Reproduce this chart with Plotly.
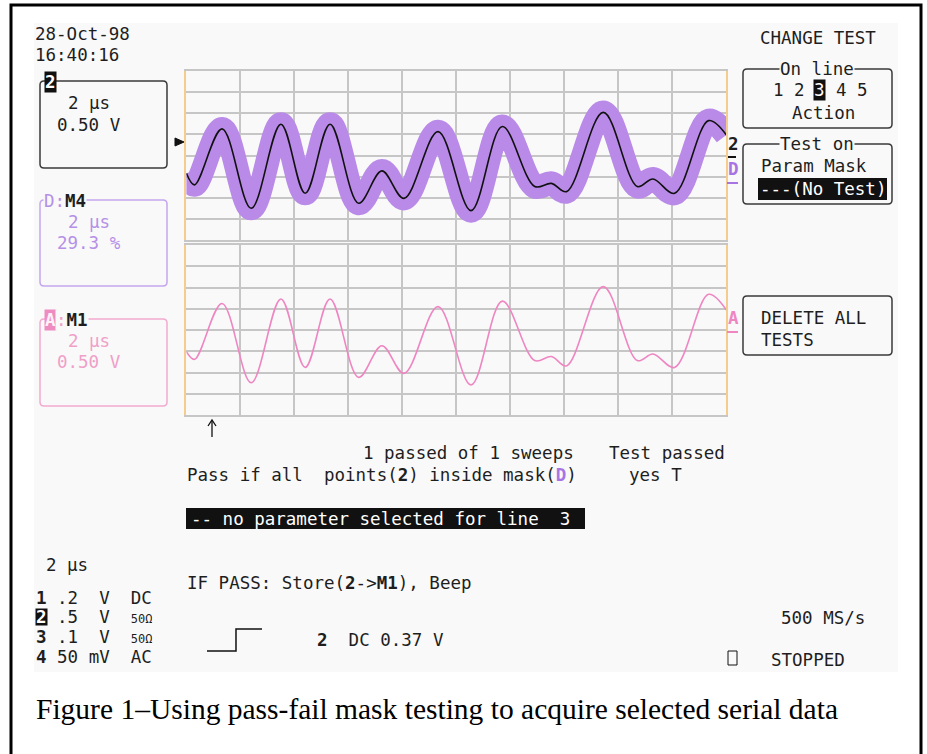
import plotly.graph_objects as go

W, H = 927, 754

# ---- data (time in µs, 2 µs/div; volts, 0.5 V/div about screen centre) ----
time_us = [0.0, 0.3, 1.32, 2.40, 3.50, 4.40, 5.32, 6.38, 7.24, 8.06, 9.32, 10.54,
           11.70, 12.90, 13.52, 14.08, 15.44, 16.70, 17.28, 18.08, 19.34, 20.0]
ch2_volts = [-0.42, -0.695, 0.63, -1.25, 0.74, -0.895, 0.74, -1.13, -0.365, -1.015, 0.565, -1.305,
             0.685, -0.735, -0.66, -0.855, 1.02, -0.735, -0.555, -0.895, 0.825, 0.485]
m1_volts = [-0.51, -0.69, 0.625, -1.24, 0.73, -0.88, 0.73, -1.115, -0.37, -1.02, 0.55, -1.295,
            0.68, -0.72, -0.625, -0.845, 1.02, -0.72, -0.565, -0.88, 0.84, 0.47]

x_range = [0, 20]      # 10 div x 2 µs
y_range = [-2, 2]      # 8 div x 0.5 V

MONO = "DejaVu Sans Mono"
FS = 17.5
TXT = "#1e1e1e"
SCREEN = "#f9f9f9"
GRID = "#c6c6c6"
EDGE = "#f6cc8e"
MASK = "#b98ae8"
PURPLE_TXT = "#b590e6"
PURPLE_BORDER = "#c4a6ee"
PURPLE_D = "#a873e2"
PINK_LINE = "#ee86c2"
PINK_TXT = "#f0a0c8"
PINK_BORDER = "#f2aacf"


def px(x):
    return x / W


def py(y):
    return 1 - y / H


def nb(s):
    out, intag = [], False
    for ch in s:
        if ch == "<":
            intag = True
        elif ch == ">":
            intag = False
        out.append("\u00a0" if (ch == " " and not intag) else ch)
    return "".join(out)


annotations = []
shapes = []


def text(x, y, s, color=TXT, size=FS, anchor="left", bg=None, family=MONO, pad=0, height=None):
    a = dict(xref="paper", yref="paper", x=px(x), y=py(y), xanchor=anchor, yanchor="middle",
             showarrow=False, text=nb(s), font=dict(family=family, size=size, color=color),
             borderpad=pad)
    if bg:
        a["bgcolor"] = bg
    if height:
        a["height"] = height
    annotations.append(a)


def P(x, y):
    return f"{px(x):.5f},{py(y):.5f}"


def rrect(x0, y0, x1, y1, color, r=4, width=1.5):
    path = (f"M{P(x0 + r, y0)} L{P(x1 - r, y0)} Q{P(x1, y0)} {P(x1, y0 + r)} "
            f"L{P(x1, y1 - r)} Q{P(x1, y1)} {P(x1 - r, y1)} L{P(x0 + r, y1)} "
            f"Q{P(x0, y1)} {P(x0, y1 - r)} L{P(x0, y0 + r)} Q{P(x0, y0)} {P(x0 + r, y0)} Z")
    shapes.append(dict(type="path", xref="paper", yref="paper", path=path,
                       line=dict(color=color, width=width), fillcolor="rgba(0,0,0,0)"))


def rect(x0, y0, x1, y1, fill=None, line=None, lw=1, layer="above"):
    shapes.append(dict(type="rect", xref="paper", yref="paper", x0=px(x0), x1=px(x1),
                       y0=py(y1), y1=py(y0), layer=layer,
                       fillcolor=fill or "rgba(0,0,0,0)",
                       line=dict(color=line or "rgba(0,0,0,0)", width=lw if line else 0)))


def poly(pts, color=TXT, width=1.5, fill=None):
    path = "M" + " L".join(P(x, y) for x, y in pts)
    if fill:
        path += " Z"
    shapes.append(dict(type="path", xref="paper", yref="paper", path=path,
                       line=dict(color=color, width=width),
                       fillcolor=fill or "rgba(0,0,0,0)"))


# screen background and outer frame
rect(34, 23, 898, 672, fill=SCREEN, layer="below")
rect(11, 5, 921, 770, line="#000000", lw=3)

fig = go.Figure()
fig.add_trace(go.Scatter(x=time_us, y=ch2_volts, mode="lines", xaxis="x", yaxis="y",
                         line=dict(color=MASK, width=24, shape="spline", smoothing=1),
                         hoverinfo="skip", showlegend=False))
fig.add_trace(go.Scatter(x=time_us, y=ch2_volts, mode="lines", xaxis="x", yaxis="y",
                         line=dict(color="#111111", width=1.6, shape="spline", smoothing=1),
                         hoverinfo="skip", showlegend=False))
fig.add_trace(go.Scatter(x=time_us, y=m1_volts, mode="lines", xaxis="x2", yaxis="y2",
                         line=dict(color=PINK_LINE, width=1.6, shape="spline", smoothing=1),
                         hoverinfo="skip", showlegend=False))

ax_common = dict(showgrid=True, gridcolor=GRID, gridwidth=1.5, zeroline=False,
                 showticklabels=False, ticks="", showline=True, linewidth=1.5, mirror=True,
                 fixedrange=True)
xdom = [px(186.4), px(726.4)]

# ---- left column ----
text(34, 34, "28-Oct-98")
text(34, 55, "16:40:16")
rrect(40, 81, 167, 168, "#3a3a3a")
text(44, 82, "<b>2</b>", color="#ffffff", bg="#111111")
text(67, 103, "2 µs")
text(56, 125, "0.50 V")

rrect(40, 200, 167, 286, PURPLE_BORDER)
text(43, 201, f"<span style='color:{PURPLE_TXT}'>D:</span><b>M4</b>", bg=SCREEN)
text(67, 222, "2 µs", color=PURPLE_TXT)
text(56, 243, "29.3 %", color=PURPLE_TXT)

rrect(40, 319, 167, 406, PINK_BORDER)
text(44, 320, "<b>A</b>", color="#fdf0f6", bg="#ee8cc2")
text(55, 320, f"<span style='color:{PINK_TXT}'>:</span><b>M1</b>", bg=SCREEN)
text(67, 341, "2 µs", color=PINK_TXT)
text(56, 362, "0.50 V", color=PINK_TXT)

# ground marker and right-hand trace labels
poly([(175, 138), (184, 142), (175, 146)], color="#111111", width=1, fill="#111111")
text(727, 144, "<b>2</b>")
poly([(728, 157), (736, 157)], color="#111111", width=2)
text(727, 169, "<b>D</b>", color=PURPLE_D)
poly([(727, 183), (738, 183)], color=PURPLE_D, width=2)
text(727, 318, "<b>A</b>", color=PINK_LINE)
poly([(727, 332), (738, 332)], color=PINK_LINE, width=2)

# arrow under grid
poly([(212, 421), (212, 437)], color="#111111", width=1.3)
poly([(208, 426), (212, 420), (216, 426)], color="#111111", width=1.3)

# ---- right panel ----
text(818, 38, "CHANGE TEST", anchor="center")
rrect(743, 69, 892, 128, "#3a3a3a")
text(817, 69, "On line", anchor="center", bg=SCREEN)
text(772, 90, "1 2")
text(819.4, 90, "3", anchor="center", color="#ffffff", bg="#111111")
text(835.2, 90, "4 5")
text(823, 113, "Action", anchor="center")
rrect(743, 144, 892, 204, "#3a3a3a")
text(817, 144, "Test on", anchor="center", bg=SCREEN)
text(760, 166, "Param Mask")
rect(758, 178, 887, 200, fill="#111111")
text(759, 189, "---(No Test)", color="#ffffff")
rrect(743, 296, 892, 355, "#3a3a3a")
text(760, 318, "DELETE ALL")
text(760, 340, "TESTS")

# ---- middle status text ----
text(362, 453, "1 passed of 1 sweeps")
text(608, 453, "Test passed")
text(186, 475, f"Pass if all  points(<b>2</b>) inside mask(<span style='color:{PURPLE_D}'><b>D</b></span>)")
text(628, 475, "yes T")
rect(186, 508, 585, 529, fill="#111111")
text(190, 518.5, "-- no parameter selected for line  3", color="#ffffff")

# ---- bottom status ----
text(45, 565, "2 µs")
text(35, 597.5, "<b>1</b> .2  V  DC", height=16)
text(35, 617, "<b>2</b>", color="#ffffff", bg="#111111", height=16)
text(56.2, 617, ".5  V  <span style='font-size:12px'>50Ω</span>", height=16)
text(35, 636.5, "<b>3</b> .1  V  <span style='font-size:12px'>50Ω</span>", height=16)
text(35, 657, "<b>4</b> 50 mV  AC", height=16)
text(186, 583, "IF PASS: Store(<b>2</b>-><b>M1</b>), Beep")
text(780, 618, "500 MS/s")
poly([(207, 651), (236, 651), (236, 629), (262, 629)], color="#111111", width=1.5)
text(316, 640, "<b>2</b>  DC 0.37 V")
rect(728, 651, 737, 665, line="#111111", lw=1)
text(770, 660, "STOPPED")

# caption
text(35, 709, "Figure 1–Using pass-fail mask testing to acquire selected serial data",
     color="#000000", size=29.5, family="Liberation Serif")

fig.update_layout(
    width=W, height=H, margin=dict(l=0, r=0, t=0, b=0),
    paper_bgcolor="#ffffff", plot_bgcolor="rgba(0,0,0,0)",
    showlegend=False,
    xaxis=dict(domain=xdom, range=x_range, dtick=2, anchor="y", linecolor=GRID, **ax_common),
    yaxis=dict(domain=[py(240), py(71)], range=y_range, dtick=0.5, anchor="x",
               linecolor=EDGE, **ax_common),
    xaxis2=dict(domain=xdom, range=x_range, dtick=2, anchor="y2", linecolor=GRID, **ax_common),
    yaxis2=dict(domain=[py(415), py(245)], range=y_range, dtick=0.5, anchor="x2",
                linecolor=EDGE, **ax_common),
    annotations=annotations,
    shapes=shapes,
)

fig.write_html("out.html", config={"displayModeBar": False},
               post_script="document.body.style.margin='0px';")
